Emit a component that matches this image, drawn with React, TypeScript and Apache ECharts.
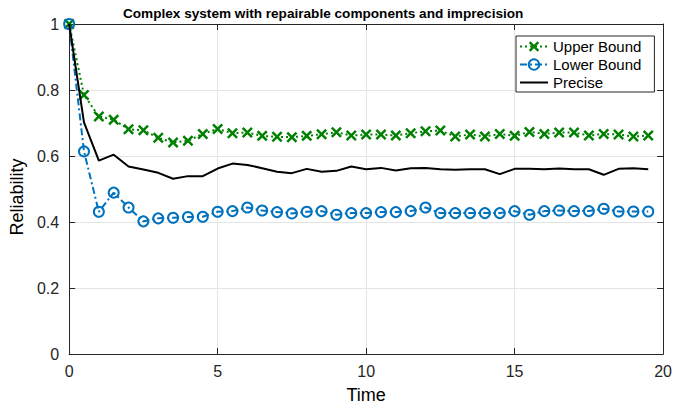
import React, { useEffect, useRef } from "react";
import * as echarts from "echarts";

const timeSteps = [0, 0.5, 1, 1.5, 2, 2.5, 3, 3.5, 4, 4.5, 5, 5.5, 6, 6.5, 7, 7.5, 8, 8.5, 9, 9.5, 10, 10.5, 11, 11.5, 12, 12.5, 13, 13.5, 14, 14.5, 15, 15.5, 16, 16.5, 17, 17.5, 18, 18.5, 19, 19.5];

const upperBound = [1, 0.785, 0.72, 0.71, 0.681, 0.678, 0.655, 0.641, 0.646, 0.667, 0.682, 0.669, 0.671, 0.661, 0.658, 0.657, 0.661, 0.666, 0.672, 0.662, 0.665, 0.665, 0.662, 0.669, 0.675, 0.677, 0.659, 0.665, 0.659, 0.667, 0.661, 0.673, 0.667, 0.671, 0.671, 0.662, 0.667, 0.665, 0.659, 0.662];

const lowerBound = [1, 0.614, 0.431, 0.489, 0.444, 0.402, 0.411, 0.413, 0.415, 0.416, 0.431, 0.433, 0.444, 0.435, 0.43, 0.426, 0.431, 0.433, 0.422, 0.427, 0.427, 0.43, 0.43, 0.433, 0.444, 0.427, 0.427, 0.427, 0.427, 0.427, 0.433, 0.422, 0.433, 0.435, 0.433, 0.433, 0.44, 0.432, 0.432, 0.432];

const precise = [1, 0.702, 0.586, 0.604, 0.568, 0.559, 0.549, 0.531, 0.539, 0.539, 0.562, 0.577, 0.573, 0.563, 0.552, 0.548, 0.561, 0.552, 0.555, 0.568, 0.56, 0.564, 0.556, 0.563, 0.564, 0.56, 0.558, 0.56, 0.56, 0.545, 0.561, 0.561, 0.56, 0.562, 0.56, 0.56, 0.543, 0.561, 0.563, 0.56];

const seriesNames = ["Upper Bound", "Lower Bound", "Precise"];
const titleText = "Complex system with repairable components and imprecision";

const FONT = "'Liberation Sans', Arial, Helvetica, sans-serif";
const AXIS = "#262626";
const GRID = "#e4e4e4";
const GREEN = "#008000";
const BLUE = "#0072BD";
const X_SYMBOL = "path://M0,16 L16,0 L50,34 L84,0 L100,16 L66,50 L100,84 L84,100 L50,66 L16,100 L0,84 L34,50 Z";

const pairs = (vals: number[]) => timeSteps.map((t, i) => [t, vals[i]]);

export default function App() {
  const ref = useRef<HTMLDivElement>(null);
  useEffect(() => {
    if (!ref.current) return;
    const chart = echarts.init(ref.current, undefined, { renderer: "svg" });
    const baseAxisLine = { show: true, onZero: false, lineStyle: { color: AXIS, width: 1 } };
    const tick = { show: true, inside: true, length: 6, lineStyle: { color: AXIS, width: 1 } };
    chart.setOption({
      animation: false,
      backgroundColor: "#fff",
      textStyle: { fontFamily: FONT },
      title: {
        text: titleText,
        left: 123,
        top: 6,
        padding: 0,
        textStyle: { fontSize: 13.6, fontWeight: "bold", color: "#000", fontFamily: FONT },
      },
      grid: { left: 69, right: 11, top: 24, bottom: 57, containLabel: false },
      legend: {
        orient: "vertical",
        left: 516,
        top: 36,
        padding: [3, 13, 2, 3],
        itemGap: 3,
        itemWidth: 28,
        itemHeight: 13,
        backgroundColor: "#fff",
        borderColor: AXIS,
        borderWidth: 1,
        borderRadius: 0,
        textStyle: { fontSize: 15, color: "#000", fontFamily: FONT },
        data: [
          { name: seriesNames[0] },
          { name: seriesNames[1] },
          { name: seriesNames[2], itemStyle: { opacity: 0 } },
        ],
      },
      xAxis: [
        {
          type: "value",
          min: 0,
          max: 20,
          interval: 5,
          position: "bottom",
          axisLine: baseAxisLine,
          axisTick: tick,
          axisLabel: { fontSize: 16, color: AXIS, margin: 9, fontFamily: FONT },
          splitLine: { show: true, lineStyle: { color: GRID, width: 1 } },
          name: "Time",
          nameLocation: "middle",
          nameGap: 32,
          nameTextStyle: { fontSize: 18, color: "#000", fontFamily: FONT },
        },
        {
          type: "value",
          min: 0,
          max: 20,
          interval: 5,
          position: "top",
          axisLine: baseAxisLine,
          axisTick: tick,
          axisLabel: { show: false },
          splitLine: { show: false },
        },
      ],
      yAxis: [
        {
          type: "value",
          min: 0,
          max: 1,
          interval: 0.2,
          position: "left",
          axisLine: baseAxisLine,
          axisTick: tick,
          axisLabel: { fontSize: 16, color: AXIS, margin: 10, fontFamily: FONT },
          splitLine: { show: true, lineStyle: { color: GRID, width: 1 } },
          name: "Reliability",
          nameLocation: "middle",
          nameGap: 38,
          nameRotate: 90,
          nameTextStyle: { fontSize: 18, color: "#000", fontFamily: FONT, padding: [0, 16, 0, 0] },
        },
        {
          type: "value",
          min: 0,
          max: 1,
          interval: 0.2,
          position: "right",
          axisLine: baseAxisLine,
          axisTick: tick,
          axisLabel: { show: false },
          splitLine: { show: false },
        },
      ],
      series: [
        {
          name: seriesNames[0],
          type: "line",
          data: pairs(upperBound),
          symbol: X_SYMBOL,
          symbolSize: 11,
          showAllSymbol: true,
          lineStyle: { color: GREEN, width: 2, type: [2, 3] },
          itemStyle: { color: GREEN, borderWidth: 0 },
          z: 2,
        },
        {
          name: seriesNames[1],
          type: "line",
          data: pairs(lowerBound),
          symbol: "circle",
          symbolSize: 10,
          showAllSymbol: true,
          lineStyle: { color: BLUE, width: 2, type: [7, 3, 2, 3] },
          itemStyle: { color: "rgba(255,255,255,0)", borderColor: BLUE, borderWidth: 2 },
          z: 3,
        },
        {
          name: seriesNames[2],
          type: "line",
          data: pairs(precise),
          symbol: "none",
          lineStyle: { color: "#000", width: 2 },
          itemStyle: { color: "#000" },
          z: 4,
        },
      ],
    });
    return () => chart.dispose();
  }, []);
  return (
    <div
      ref={ref}
      style={{ position: "fixed", left: 0, top: 0, width: 675, height: 411, background: "#fff" }}
    />
  );
}
